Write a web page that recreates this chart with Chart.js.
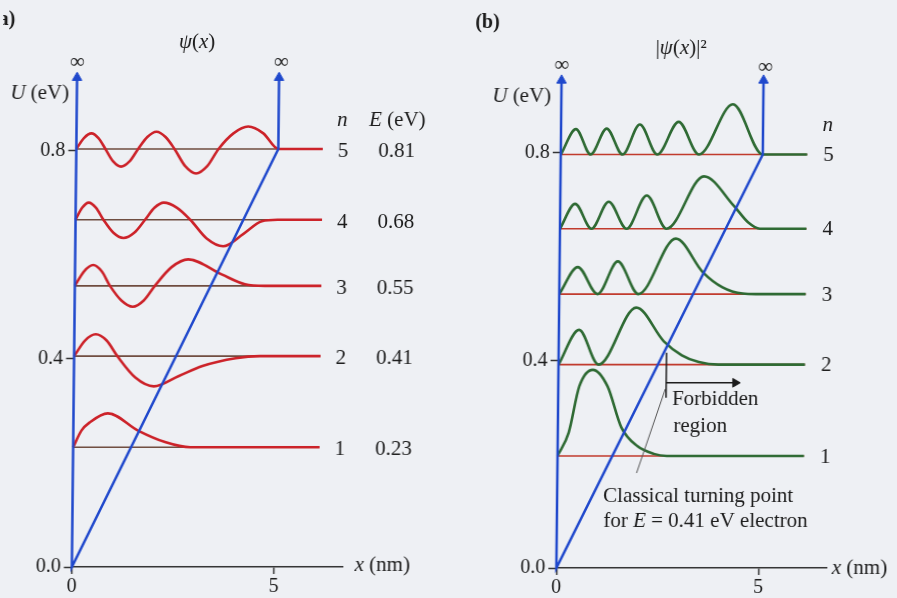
<!DOCTYPE html>
<html>
<head>
<meta charset="utf-8">
<script src="https://cdn.jsdelivr.net/npm/chart.js@4.4.1/dist/chart.umd.min.js"></script>
<style>
  html, body { margin: 0; padding: 0; background: #eef0f4; overflow: hidden; }
  /* the scanned figure leans slightly: verticals tilt right toward the top */
  #wrap { position: relative; width: 897px; height: 598px; transform: skewX(-0.61deg); transform-origin: 448px 320px; }
  canvas { position: absolute; left: 0; top: 0; }
</style>
</head>
<body>
<div id="wrap">
  <canvas id="chartA" width="897" height="598"></canvas>
  <canvas id="chartB" width="897" height="598"></canvas>
</div>
<script>
// ---- data ----
const levelN = [1, 2, 3, 4, 5];
const energyLabels = ['0.23', '0.41', '0.55', '0.68', '0.81'];
// level heights as drawn in each panel (eV)
const levelA = [0.23, 0.405, 0.54, 0.667, 0.803];
const levelB = [0.216, 0.392, 0.528, 0.654, 0.797];
const yTicks = [0, 0.4, 0.8];
const xTicks = [0, 5];
const wallX = 5;
const wallTop = 0.94;
const lineEnd = 6.1;

// psi(x), panel (a): x in nm, height above its level as drawn (eV)
const psiX = [
  [0, 0.2, 0.41, 0.85, 1.6, 2.27, 2.9],
  [0, 0.265, 0.53, 0.8, 1.07, 1.52, 1.98, 2.6, 3.18, 4.0, 4.6],
  [0, 0.225, 0.45, 0.66, 0.87, 1.155, 1.44, 1.71, 1.98, 2.39, 2.8, 3.63, 4.21, 4.7],
  [0, 0.16, 0.32, 0.505, 0.69, 0.94, 1.19, 1.455, 1.72, 1.95, 2.18, 2.51, 2.84, 3.25, 3.66, 4.16, 4.61, 5.0],
  [0, 0.185, 0.37, 0.545, 0.72, 0.915, 1.11, 1.32, 1.53, 1.755, 1.98, 2.205, 2.43, 2.7, 2.97, 3.245, 3.52, 3.885, 4.25, 4.625, 5.0]
];
const psiY = [
  [0, 0.032, 0.048, 0.065, 0.032, 0.010, 0],
  [0, 0.030, 0.042, 0.030, 0, -0.041, -0.058, -0.038, -0.019, -0.004, 0],
  [0, 0.028, 0.040, 0.028, 0, -0.028, -0.040, -0.028, 0, 0.036, 0.051, 0.022, 0.003, 0],
  [0, 0.023, 0.033, 0.023, 0, -0.025, -0.035, -0.025, 0, 0.023, 0.033, 0.023, 0, -0.036, -0.051, -0.027, -0.003, 0],
  [0, 0.021, 0.030, 0.021, 0, -0.024, -0.034, -0.024, 0, 0.023, 0.033, 0.023, 0, -0.033, -0.047, -0.033, 0, 0.030, 0.043, 0.030, 0]
];

// |psi(x)|^2, panel (b)
const probX = [
  [0, 0.27, 0.52, 0.85, 1.22, 1.57, 1.97, 2.38, 2.7],
  [0, 0.5, 0.99, 1.91, 2.6, 3.05, 3.47, 3.96],
  [0, 0.45, 0.95, 1.44, 1.96, 2.87, 3.55, 4.04, 4.54, 4.87],
  [0, 0.37, 0.78, 1.2, 1.65, 2.14, 2.64, 3.55, 4.3, 4.66, 4.95],
  [0, 0.37, 0.74, 1.13, 1.53, 1.95, 2.39, 2.91, 3.42, 4.25, 5.0]
];
const probY = [
  [0, 0.045, 0.134, 0.166, 0.134, 0.055, 0.019, 0.004, 0],
  [0, 0.067, 0, 0.110, 0.045, 0.018, 0.005, 0],
  [0, 0.052, 0, 0.063, 0, 0.107, 0.042, 0.013, 0.001, 0],
  [0, 0.048, 0, 0.052, 0, 0.064, 0, 0.101, 0.044, 0.012, 0],
  [0, 0.049, 0, 0.050, 0, 0.058, 0, 0.063, 0, 0.097, 0]
];

// classical turning point annotation (panel b)
const turnX = 2.67;
const turnTickY = [0.415, 0.328];
const forbidArrowX = [2.67, 4.38];
const forbidArrowY = 0.357;
const leaderX = [2.65, 1.96];
const leaderY = [0.345, 0.183];

const BLUE = '#1f48cc';
const RED = '#cc2229';
const GREEN = '#2e6a33';
const INK = '#1b1b1b';
const FONT = '"Liberation Serif", "Times New Roman", serif';

Chart.defaults.font.family = FONT;
Chart.defaults.color = INK;

// '*' toggles italic
function drawRuns(ctx, text, px, py, size, align, bold) {
  const parts = text.split('*');
  const fontFor = i => (i % 2 ? 'italic ' : '') + (bold ? 'bold ' : '') + size + 'px ' + FONT;
  let w = 0;
  parts.forEach((t, i) => { ctx.font = fontFor(i); w += ctx.measureText(t).width; });
  let x = align === 'center' ? px - w / 2 : align === 'right' ? px - w : px;
  parts.forEach((t, i) => {
    ctx.font = fontFor(i);
    ctx.fillText(t, x, py);
    x += ctx.measureText(t).width;
  });
}

function textPlugin(items) {
  return {
    id: 'texts',
    afterDatasetsDraw(chart) {
      const { ctx, scales: { x, y } } = chart;
      ctx.save();
      ctx.fillStyle = INK;
      ctx.textBaseline = 'middle';
      items.forEach(it => drawRuns(ctx, it.text, x.getPixelForValue(it.x), y.getPixelForValue(it.y),
        it.size || 21, it.align || 'center', it.bold));
      ctx.restore();
    }
  };
}

function line(xs, ys, color, width, order, extra) {
  return Object.assign({
    data: xs.map((v, i) => ({ x: v, y: ys[i] })),
    borderColor: color,
    backgroundColor: color,
    borderWidth: width,
    pointRadius: 0,
    tension: 0,
    fill: false,
    clip: false,
    order: order
  }, extra || {});
}

function potential(topU) {
  return line([0, 0, wallX, wallX], [wallTop, 0, topU, wallTop], BLUE, 2.5, 0, {
    pointStyle: 'triangle',
    pointRadius: [5.5, 0, 0, 5.5],
    pointBorderWidth: 1,
    pointBackgroundColor: BLUE,
    pointBorderColor: BLUE
  });
}

function curves(xs, ys, levels, color) {
  return levels.map((L, i) => line(
    xs[i].concat([lineEnd]),
    ys[i].map(v => v + L).concat([L]),
    color, 2.6, 1, { cubicInterpolationMode: 'monotone' }));
}

function levelLines(levels, color) {
  return levels.map(L => line([0, lineEnd], [L, L], color, 1.6, 2));
}

function makeChart(id, datasets, frame, texts) {
  return new Chart(document.getElementById(id), {
    type: 'line',
    data: { datasets },
    options: {
      responsive: false,
      animation: false,
      devicePixelRatio: 1,
      events: [],
      layout: { padding: { left: frame.left - 74.5, right: 897 - frame.right, top: frame.top, bottom: 0 } },
      plugins: { legend: { display: false }, tooltip: { enabled: false } },
      scales: {
        x: {
          type: 'linear', min: 0, max: 6.7,
          afterBuildTicks: s => { s.ticks = xTicks.map(v => ({ value: v })); },
          afterFit: s => { s.height = frame.axisH; },
          grid: { drawOnChartArea: false, drawTicks: true, tickLength: 7, tickWidth: 1.5, color: '#333' },
          border: { display: true, color: '#333', width: 1.5 },
          ticks: { font: { size: 20 }, color: INK, padding: 1, maxRotation: 0, callback: v => String(v) }
        },
        y: {
          type: 'linear', min: 0, max: 1.0,
          afterBuildTicks: s => { s.ticks = yTicks.map(v => ({ value: v })); },
          afterFit: s => { s.width = 74.5; },
          grid: { drawOnChartArea: false, drawTicks: true, tickLength: 8, tickWidth: 1.5, color: '#333' },
          border: { display: false },
          ticks: { font: { size: 20 }, color: INK, padding: 3, callback: v => v.toFixed(1) }
        }
      }
    },
    plugins: [textPlugin(texts)]
  });
}

// ---- panel (a) ----
const textsA = [
  { text: '(a)', x: -1.54, y: 1.051, align: 'right', bold: true, size: 20 },
  { text: '*ψ*(*x*)', x: 2.96, y: 1.008 },
  { text: '*U* (eV)', x: -0.92, y: 0.91 },
  { text: '∞', x: 0.0, y: 0.97, size: 21 },
  { text: '∞', x: 5.05, y: 0.97, size: 21 },
  { text: '*n*', x: 6.58, y: 0.857 },
  { text: '*E* (eV)', x: 7.24, y: 0.857, align: 'left' },
  { text: '*x* (nm)', x: 7.0, y: 0.002, align: 'left' }
].concat(
  levelN.map((n, i) => ({ text: String(n), x: 6.6, y: levelA[i] - 0.005 })),
  energyLabels.map((e, i) => ({ text: e, x: 7.93, y: levelA[i] - 0.005 }))
);

makeChart('chartA',
  [potential(levelA[4])].concat(curves(psiX, psiY, levelA, RED), levelLines(levelA, '#6e4b3e')),
  { left: 74.5, right: 74.5 + 6.7 * 40.4, top: 46.4, axisH: 31 },
  textsA);

// ---- panel (b) ----
const textsB = [
  { text: '(b)', x: -2.15, y: 1.05, align: 'left', bold: true, size: 20 },
  { text: '|*ψ*(*x*)|²', x: 2.95, y: 1.002 },
  { text: '*U* (eV)', x: -0.98, y: 0.908 },
  { text: '∞', x: 0.0, y: 0.968, size: 21 },
  { text: '∞', x: 5.04, y: 0.964, size: 21 },
  { text: '*n*', x: 6.6, y: 0.854 },
  { text: '*x* (nm)', x: 6.82, y: 0.0, align: 'left' },
  { text: 'Forbidden', x: 2.82, y: 0.324, align: 'left' },
  { text: 'region', x: 2.86, y: 0.272, align: 'left' },
  { text: 'Classical turning point', x: 1.14, y: 0.137, align: 'left' },
  { text: 'for *E* = 0.41 eV electron', x: 1.15, y: 0.089, align: 'left' }
].concat(levelN.map((n, i) => ({ text: String(n), x: 6.63, y: levelB[i] - 0.002 })));

const annotB = [
  line([turnX, turnX], turnTickY, INK, 1.5, 0),
  line(forbidArrowX, [forbidArrowY, forbidArrowY], INK, 1.5, 0, {
    pointStyle: 'triangle', pointRadius: [0, 5], pointRotation: [0, 90],
    pointBackgroundColor: INK, pointBorderColor: INK, pointBorderWidth: 1
  }),
  line(leaderX, leaderY, '#555', 1, 0)
];

makeChart('chartB',
  [potential(levelB[4])].concat(annotB, curves(probX, probY, levelB, GREEN), levelLines(levelB, '#c0392b')),
  { left: 559, right: 559 + 6.7 * 40.4, top: 49.25, axisH: 30 },
  textsB);
</script>
</body>
</html>
